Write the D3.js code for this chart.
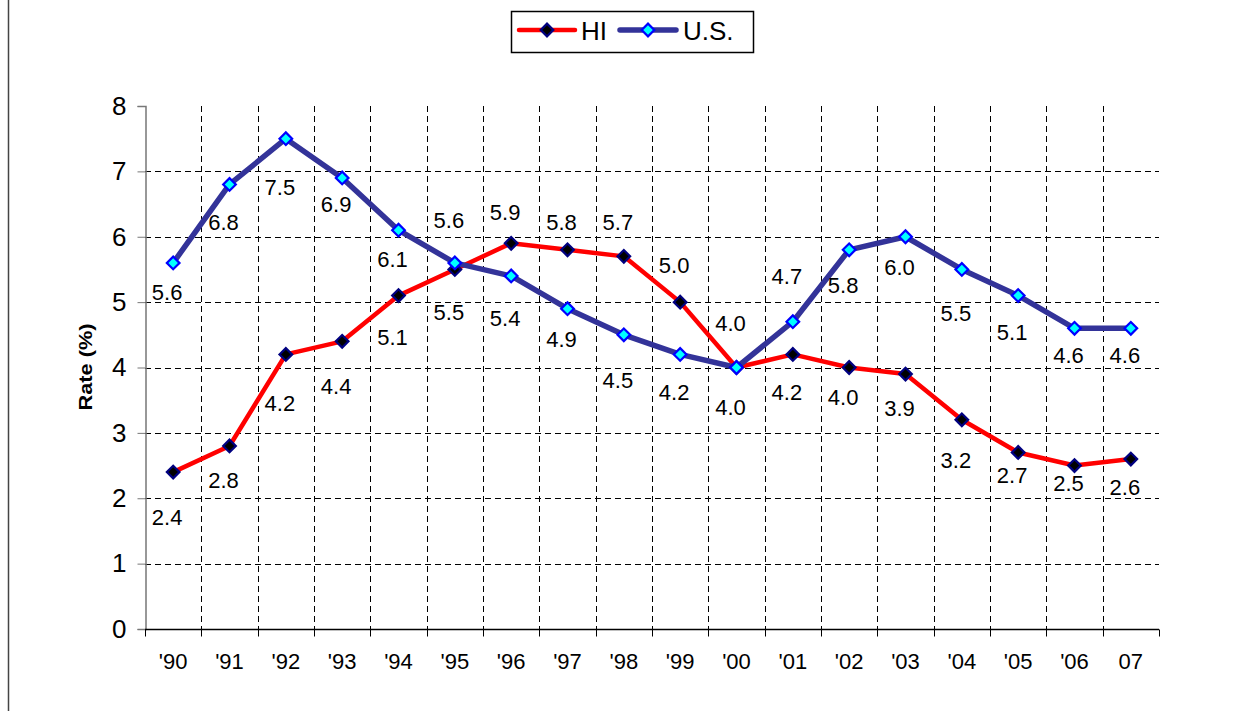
<!DOCTYPE html>
<html>
<head>
<meta charset="utf-8">
<script src="https://cdn.jsdelivr.net/npm/d3@7"></script>
<style>
  body { margin: 0; background: #fff; }
  svg { display: block; font-family: "Liberation Sans", Arial, sans-serif; }
</style>
</head>
<body>
<div id="chart"></div>
<script>
// Data
const years = ["'90", "'91", "'92", "'93", "'94", "'95", "'96", "'97", "'98", "'99",
               "'00", "'01", "'02", "'03", "'04", "'05", "'06", "07"];
const hiRate = [2.4, 2.8, 4.2, 4.4, 5.1, 5.5, 5.9, 5.8, 5.7, 5.0, 4.0, 4.2, 4.0, 3.9, 3.2, 2.7, 2.5, 2.6];
const usRate = [5.6, 6.8, 7.5, 6.9, 6.1, 5.6, 5.4, 4.9, 4.5, 4.2, 4.0, 4.7, 5.8, 6.0, 5.5, 5.1, 4.6, 4.6];
const yTicks = [0, 1, 2, 3, 4, 5, 6, 7, 8];

// label offsets (px below the point, negative = above), as placed in the original
const hiLabelDy = [45, 34, 49, 45, 42, 43, -31, -28, -34, -37, -44, 38, 30, 34, 40, 23, 18, 28];
const usLabelDy = [29, 38, 49, 26, 29, -43, 42, 31, 45, 38, 40, -45, 35, 31, 44, 37, 27, 27];

const width = 1248, height = 711;
const svg = d3.select("#chart").append("svg")
    .attr("width", width)
    .attr("height", height);

// chart area border (left edge only shows)
svg.append("line")
    .attr("x1", 8.5).attr("x2", 8.5)
    .attr("y1", 0).attr("y2", height)
    .attr("stroke", "#444").attr("stroke-width", 1.5);

const x = d3.scaleBand().domain(years).range([145, 1159]).padding(0);
const y = d3.scaleLinear().domain([0, 8]).range([629, 106]);
const cx = d => x(d) + x.bandwidth() / 2;

// horizontal grid
svg.append("g")
    .selectAll("line")
    .data(yTicks.filter(t => t > 0 && t < 8))
    .join("line")
    .attr("x1", 145).attr("x2", 1159)
    .attr("y1", d => Math.round(y(d)) + 0.5)
    .attr("y2", d => Math.round(y(d)) + 0.5)
    .attr("stroke", "#000")
    .attr("stroke-dasharray", "6,4");

// vertical grid at category boundaries
svg.append("g")
    .selectAll("line")
    .data(years.slice(1))
    .join("line")
    .attr("x1", d => Math.round(x(d)) + 0.5)
    .attr("x2", d => Math.round(x(d)) + 0.5)
    .attr("y1", 106).attr("y2", 629)
    .attr("stroke", "#000")
    .attr("stroke-dasharray", "6,4");

// y axis
const yAxis = svg.append("g")
    .attr("transform", "translate(145.5,0)")
    .call(d3.axisLeft(y).tickValues(yTicks).tickSize(8).tickPadding(11).tickFormat(d3.format("d")));
yAxis.select(".domain").attr("stroke", "#777").attr("stroke-width", 1.5);
yAxis.selectAll(".tick line").attr("stroke", "#777");
yAxis.selectAll("text")
    .attr("font-size", 26)
    .attr("font-family", "Liberation Sans, Arial, sans-serif")
    .attr("fill", "#000");

// x axis
const xAxis = svg.append("g")
    .attr("transform", "translate(0,629.5)");
xAxis.append("line")
    .attr("x1", 145).attr("x2", 1159)
    .attr("stroke", "#000").attr("stroke-width", 1.5);
xAxis.selectAll("line.tk")
    .data(years.concat(["end"]))
    .join("line")
    .attr("class", "tk")
    .attr("x1", (d, i) => Math.round(i < years.length ? x(d) : 1159) + 0.5)
    .attr("x2", (d, i) => Math.round(i < years.length ? x(d) : 1159) + 0.5)
    .attr("y1", 0).attr("y2", 7)
    .attr("stroke", "#000");
xAxis.selectAll("text")
    .data(years)
    .join("text")
    .attr("x", d => cx(d))
    .attr("y", 32)
    .attr("dy", "0.35em")
    .attr("text-anchor", "middle")
    .attr("font-size", 22)
    .text(d => d);

// y axis title
svg.append("text")
    .attr("transform", "translate(92,367) rotate(-90)")
    .attr("text-anchor", "middle")
    .attr("font-size", 19)
    .attr("font-weight", "bold")
    .attr("textLength", 87)
    .attr("lengthAdjust", "spacingAndGlyphs")
    .text("Rate (%)");

const line = d3.line().x((d, i) => cx(years[i])).y(d => y(d));
const diamond = d3.symbol(d3.symbolSquare, 80);

const series = [
  { name: "HI", values: hiRate, dy: hiLabelDy, color: "#ff0000", width: 4.5, fill: "#000000", stroke: "#000080" },
  { name: "U.S.", values: usRate, dy: usLabelDy, color: "#333399", width: 5.5, fill: "#00ffff", stroke: "#0000ff" }
];

series.forEach(s => {
  svg.append("path")
      .datum(s.values)
      .attr("fill", "none")
      .attr("stroke", s.color)
      .attr("stroke-width", s.width)
      .attr("stroke-linejoin", "round")
      .attr("d", line);
});

series.forEach(s => {
  svg.append("g")
      .selectAll("path")
      .data(s.values)
      .join("path")
      .attr("d", diamond)
      .attr("transform", (d, i) => `translate(${cx(years[i])},${y(d)}) rotate(45)`)
      .attr("fill", s.fill)
      .attr("stroke", s.stroke)
      .attr("stroke-width", 2.2);
});

// data labels
series.forEach(s => {
  svg.append("g")
      .selectAll("text")
      .data(s.values)
      .join("text")
      .attr("x", (d, i) => cx(years[i]) - 6)
      .attr("y", (d, i) => y(d) + s.dy[i])
      .attr("dy", "0.35em")
      .attr("text-anchor", "middle")
      .attr("font-size", 22)
      .text(d => d3.format(".1f")(d));
});

// legend
const legend = svg.append("g");
legend.append("rect")
    .attr("x", 511.5).attr("y", 11.5)
    .attr("width", 242).attr("height", 41)
    .attr("fill", "#fff").attr("stroke", "#000").attr("stroke-width", 1.5);
const legItems = [
  { s: series[0], x0: 519, tx: 581 },
  { s: series[1], x0: 620, tx: 683 }
];
legItems.forEach(it => {
  legend.append("line")
      .attr("x1", it.x0).attr("x2", it.x0 + 56)
      .attr("y1", 30).attr("y2", 30)
      .attr("stroke", it.s.color)
      .attr("stroke-width", it.s.width)
      .attr("stroke-linecap", "round");
  legend.append("path")
      .attr("d", diamond)
      .attr("transform", `translate(${it.x0 + 28},30) rotate(45)`)
      .attr("fill", it.s.fill)
      .attr("stroke", it.s.stroke)
      .attr("stroke-width", 2.2);
  legend.append("text")
      .attr("x", it.tx).attr("y", 31)
      .attr("dy", "0.35em")
      .attr("font-size", 26)
      .text(it.s.name);
});
</script>
</body>
</html>
